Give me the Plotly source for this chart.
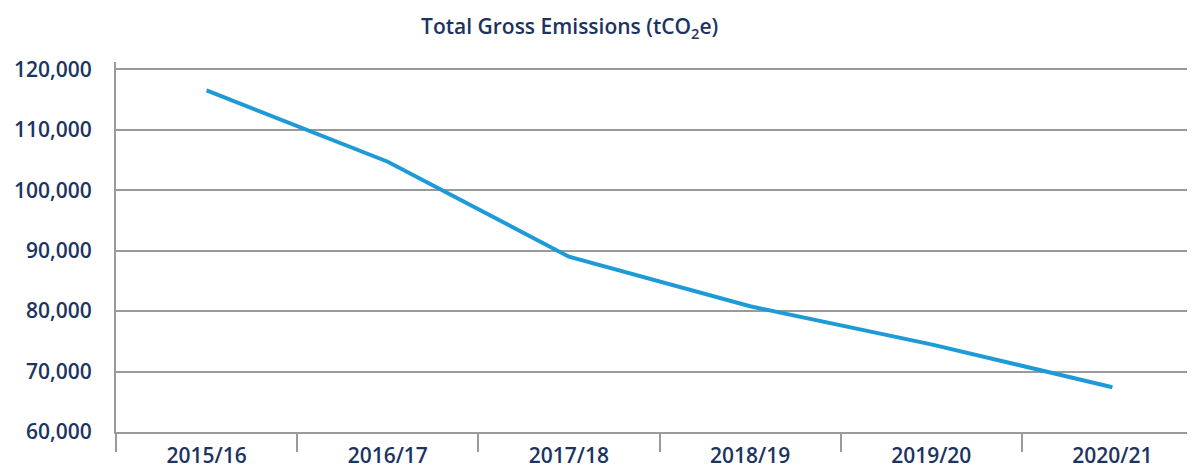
import plotly.graph_objects as go

years = ["2015/16", "2016/17", "2017/18", "2018/19", "2019/20", "2020/21"]
emissions = [116500, 104700, 89000, 80800, 74500, 67400]
y_ticks = [60000, 70000, 80000, 90000, 100000, 110000, 120000]
y_tick_labels = ["60,000", "70,000", "80,000", "90,000", "100,000", "110,000", "120,000"]

navy = "#1c3461"
grid = "#9a9a9a"

fig = go.Figure()
fig.add_trace(go.Scatter(
    x=years, y=emissions, mode="lines",
    line=dict(color="#1e9ad6", width=4),
    hoverinfo="x+y",
))

fig.update_layout(
    width=1195, height=466,
    margin=dict(l=108, r=0, t=54, b=42),
    paper_bgcolor="white", plot_bgcolor="white",
    showlegend=False,
    font=dict(family="Open Sans", color=navy),
    title=dict(
        text="Total Gross Emissions (tCO<sub>2</sub>e)",
        x=0.470, xref="container", xanchor="center",
        y=0.959, yref="container", yanchor="middle",
        font=dict(family="Open Sans", size=21, color=navy, weight=600),
    ),
)

fig.update_xaxes(
    type="category",
    range=[-0.5, 5.5],
    tickson="boundaries",
    ticks="outside", ticklen=18, tickwidth=2, tickcolor=grid,
    showline=True, linecolor=grid, linewidth=2,
    showgrid=False,
    tickfont=dict(family="Open Sans", size=21, color=navy, weight=600),
    ticklabelstandoff=4,
)

fig.update_yaxes(
    range=[60000, 121200],
    tickvals=y_ticks, ticktext=y_tick_labels,
    ticks="",
    showline=True, linecolor=grid, linewidth=2,
    showgrid=True, gridcolor=grid, gridwidth=2,
    zeroline=False,
    tickfont=dict(family="Open Sans", size=21, color=navy, weight=600),
    ticklabelstandoff=18,
)

fig.write_html("out.html")
